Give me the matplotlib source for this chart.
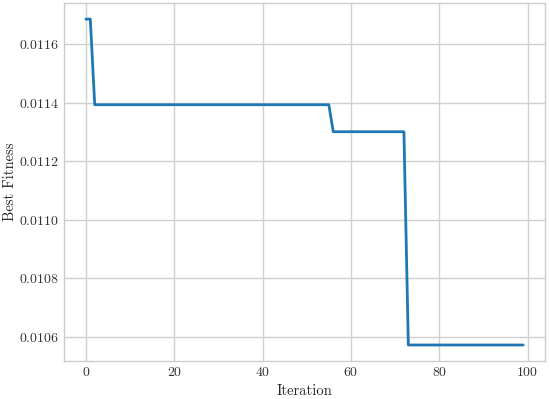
import matplotlib
matplotlib.use("Agg")
import matplotlib.pyplot as plt

plt.style.use("seaborn-v0_8-whitegrid")
plt.rcParams["font.family"] = ["cmr10", "DejaVu Serif"]
plt.rcParams["mathtext.fontset"] = "cm"
plt.rcParams["axes.formatter.use_mathtext"] = True

# best fitness per iteration (stays flat between improvements)
ITER = list(range(100))
FIT_START = 0.0116865
FIT_A = 0.0113935
FIT_B = 0.0113012
FIT_C = 0.0105716
BEST = [FIT_START] * 2 + [FIT_A] * 54 + [FIT_B] * 17 + [FIT_C] * 27


def main():
    fig, ax = plt.subplots(figsize=(5.5, 3.99), dpi=100)
    ax.plot(ITER, BEST, color="#1f77b4", lw=2)

    ax.set_xlabel("Iteration", fontsize=10.5, labelpad=4)
    ax.set_ylabel("Best Fitness", fontsize=10.5, labelpad=1.5)
    ax.tick_params(labelsize=10, colors="#333333")
    for s in ax.spines.values():
        s.set_color("#cccccc")
    ax.grid(color="#d0d0d0", lw=1)

    fig.subplots_adjust(left=0.1164, right=0.991, top=0.993, bottom=0.0945)
    fig.savefig("out.png", dpi=100)


if __name__ == "__main__":
    main()
